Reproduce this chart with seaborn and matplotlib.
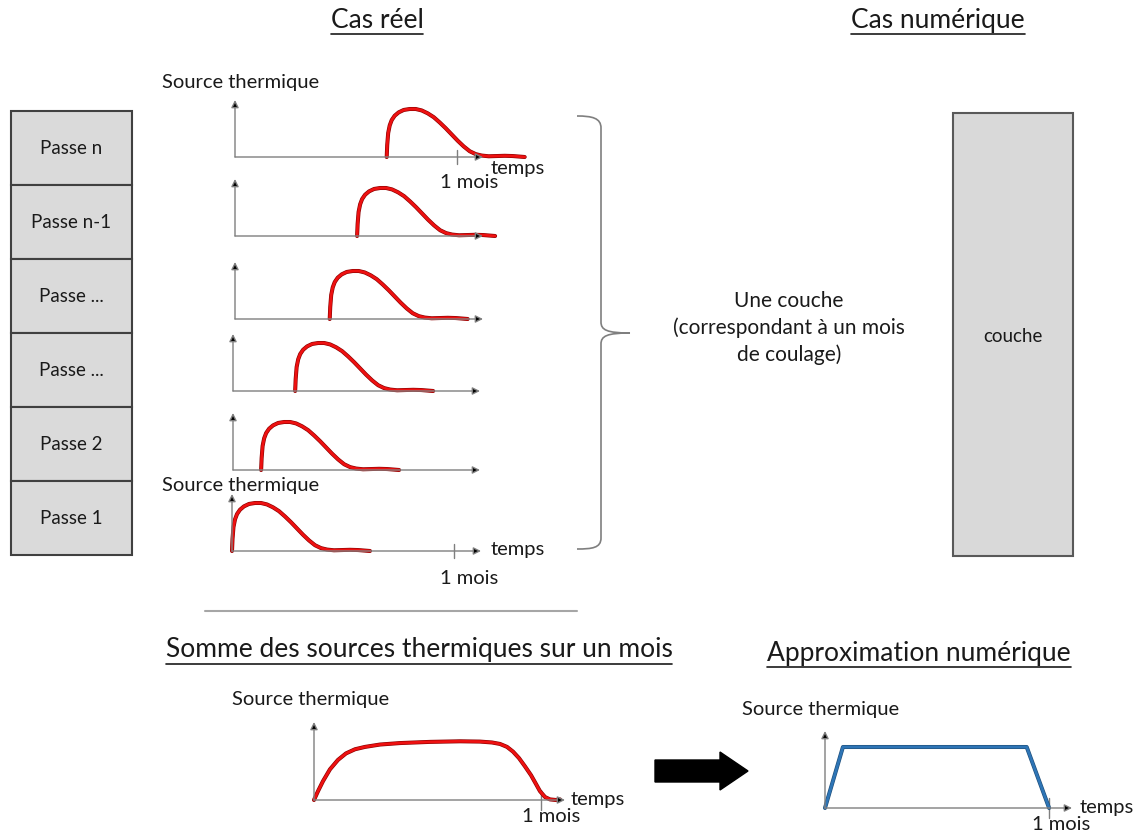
import matplotlib
matplotlib.use("Agg")
import matplotlib.pyplot as plt
import matplotlib.patheffects as pe
from matplotlib.patches import Rectangle, FancyArrow, PathPatch
from matplotlib.path import Path
import seaborn as sns

sns.set_theme(style="white")
plt.rcParams['font.family'] = ['Lato', 'DejaVu Sans']

W, H = 1142, 834

# data (time in days, source normalised to peak = 1)

passe_labels = ["Passe n", "Passe n-1", "Passe ...", "Passe ...", "Passe 2", "Passe 1"]
pulse_days = [0, 0.07, 0.2, 0.41, 0.68, 1.08, 1.62, 2.3, 3.11, 3.92, 4.73, 5.54, 6.35, 7.16,
              7.97, 8.78, 9.59, 10.41, 11.22, 12.03, 12.84, 13.78, 14.86, 15.95, 17.03, 17.84, 18.65]
pulse_value = [0, 0.25, 0.5, 0.66, 0.77, 0.86, 0.93, 0.98, 1.0, 1.0, 0.97, 0.91, 0.83, 0.72,
               0.6, 0.47, 0.34, 0.22, 0.12, 0.06, 0.03, 0.015, 0.02, 0.025, 0.02, 0.01, 0.0]
pulse_start = [20.5, 16.5, 12.8, 8.4, 3.8, 0.0]
sum_days = [0, 0.53, 1.19, 2.11, 3.17, 4.23, 5.42, 6.74, 8.72, 11.36, 15.32, 19.29, 21.93, 23.51,
            24.57, 25.5, 26.29, 27.08, 27.87, 28.67, 29.33, 29.85, 30.52, 31.18, 31.97, 32.5]
sum_value = [0, 0.15, 0.32, 0.52, 0.68, 0.79, 0.86, 0.9, 0.94, 0.965, 0.985, 0.995, 0.99, 0.975,
             0.95, 0.9, 0.82, 0.71, 0.57, 0.42, 0.27, 0.15, 0.05, 0.01, 0.0, 0.01]
approx_days = [0, 2.4, 27.0, 30.0]
approx_value = [0, 1, 1, 0]
one_month = 30

RED = "#ee1111"
BLUE = "#2e75b6"
GRAY = "#7f7f7f"

fig = plt.figure(figsize=(W / 100, H / 100), dpi=100)

# background axes in pixel units for boxes, texts and decorations
bg = fig.add_axes([0, 0, 1, 1])
bg.set_xlim(0, W)
bg.set_ylim(H, 0)
bg.axis("off")


def px_axes(x0, ybase, w, h, px_day, px_peak):
    ax = fig.add_axes([x0 / W, 1 - ybase / H, w / W, h / H])
    ax.set_xlim(0, w / px_day)
    ax.set_ylim(0, h / px_peak)
    ax.axis("off")
    ax.patch.set_alpha(0)
    return ax


def draw_axes_arrows(ax, x_end, tick=False):
    top = ax.get_ylim()[1]
    arrow = dict(arrowstyle="-|>", fc="black", ec=GRAY, lw=1, mutation_scale=11, shrinkA=0, shrinkB=0)
    ax.annotate("", xy=(0, top), xytext=(0, 0), arrowprops=arrow, annotation_clip=False)
    ax.annotate("", xy=(x_end, 0), xytext=(0, 0), arrowprops=arrow, annotation_clip=False)
    if tick:
        ax.plot([one_month, one_month], [-0.13 * top, 0.13 * top], color=GRAY, lw=1, clip_on=False)


def curve(ax, x, y, color, edge):
    sns.lineplot(x=x, y=y, ax=ax, color=color, lw=2.0, clip_on=False, sort=False,
                 path_effects=[pe.Stroke(linewidth=2.9, foreground=edge), pe.Normal()])
    ax.axis("off")


# left stack of passes
for i, lab in enumerate(passe_labels):
    bg.add_patch(Rectangle((11, 111 + 74 * i), 121, 74, fc="#dadada", ec="#404040", lw=1.5))
    bg.text(71, 148 + 74 * i, lab, ha="center", va="center", fontsize=13.5, color="#1a1a1a")

# small graphs, one per pass (top = passe n)
graph_x = [235, 235, 235, 233, 233, 232]
graph_base = [157, 236, 319, 391, 470, 551]
graph_arrow = [483, 483, 483, 480, 480, 481]
for k in range(6):
    ax = px_axes(graph_x[k], graph_base[k], 330, 57, 7.4, 48)
    draw_axes_arrows(ax, (graph_arrow[k] - graph_x[k]) / 7.4, tick=(k in (0, 5)))
    curve(ax, [pulse_start[k] + d for d in pulse_days], pulse_value, RED, "#8b0000")

# bottom-left: sum of sources
ax = px_axes(314, 800, 300, 78, 7.57, 59)
draw_axes_arrows(ax, (565 - 314) / 7.57, tick=True)
curve(ax, sum_days, sum_value, RED, "#8b0000")

# bottom-right: numerical approximation
ax = px_axes(825, 808, 300, 77, 7.47, 61)
draw_axes_arrows(ax, (1072 - 825) / 7.47, tick=True)
curve(ax, approx_days, approx_value, BLUE, "#1f4e79")

# right box
bg.add_patch(Rectangle((953, 113), 120, 443, fc="#d9d9d9", ec="#595959", lw=1.5))
bg.text(1013, 336, "couche", ha="center", va="center", fontsize=13.5, color="#1a1a1a")

# brace
verts = [(577, 116), (592, 116), (601, 118), (601, 128), (601, 322),
         (601, 330), (607, 333), (630, 333),
         (607, 333), (601, 336), (601, 344), (601, 538),
         (601, 548), (592, 549), (577, 549)]
codes = [Path.MOVETO, Path.CURVE4, Path.CURVE4, Path.CURVE4, Path.LINETO,
         Path.CURVE4, Path.CURVE4, Path.CURVE4,
         Path.CURVE4, Path.CURVE4, Path.CURVE4, Path.LINETO,
         Path.CURVE4, Path.CURVE4, Path.CURVE4]
bg.add_patch(PathPatch(Path(verts, codes), fc="none", ec=GRAY, lw=1.2))

bg.text(789, 328, "Une couche\n(correspondant à un mois\nde coulage)", ha="center", va="center",
        fontsize=15, linespacing=1.4, multialignment="center", color="#1a1a1a")

# separator and big arrow
bg.plot([205, 577], [611, 611], color="#a6a6a6", lw=1.5)
bg.add_patch(FancyArrow(655, 771, 93, 0, width=22, head_width=38, head_length=28,
                        length_includes_head=True, fc="black", ec="black"))

# axis labels
small = dict(fontsize=14.5, color="#1a1a1a", va="center")
bg.text(162, 82, "Source thermique", ha="left", **small)
bg.text(162, 485, "Source thermique", ha="left", **small)
bg.text(491, 168, "temps", ha="left", **small)
bg.text(469, 182, "1 mois", ha="center", **small)
bg.text(491, 550, "temps", ha="left", **small)
bg.text(469, 579, "1 mois", ha="center", **small)
bg.text(232, 700, "Source thermique", ha="left", **small)
bg.text(571, 800, "temps", ha="left", **small)
bg.text(551, 817, "1 mois", ha="center", **small)
bg.text(742, 709, "Source thermique", ha="left", **small)
bg.text(1080, 808, "temps", ha="left", **small)
bg.text(1061, 825, "1 mois", ha="center", **small)

# underlined titles
titles = [("Cas réel", 377, 20), ("Cas numérique", 938, 20),
          ("Somme des sources thermiques sur un mois", 419, 650),
          ("Approximation numérique", 919, 653)]
title_objs = [bg.text(x, y, t, ha="center", va="center", fontsize=19, color="#1a1a1a")
              for t, x, y in titles]
fig.canvas.draw()
renderer = fig.canvas.get_renderer()
for t in title_objs:
    bb = t.get_window_extent(renderer)
    yl = H - bb.y0 + 1
    bg.plot([bb.x0, bb.x1], [yl, yl], color="#1a1a1a", lw=1.2)

fig.savefig("out.png", dpi=100)
